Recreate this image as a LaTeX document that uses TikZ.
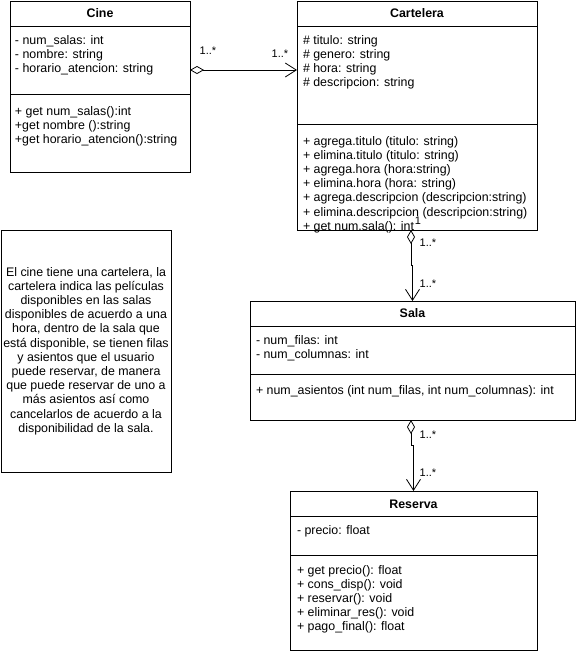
\documentclass[tikz,border=0pt]{standalone}
\usepackage{fontspec}
\setmainfont{Liberation Sans}
\usetikzlibrary{arrows.meta}
\usetikzlibrary{positioning}

\begin{document}
\begin{tikzpicture}[x=1pt,y=1pt,
  every node/.style={font=\fontsize{12.4}{14.2}\selectfont,inner sep=0pt,outer sep=0pt},
  classbox/.style={draw,line width=0.8pt,rectangle},
  header/.style={font=\fontsize{12.4}{14.2}\selectfont\bfseries},
  members/.style={anchor=base west,align=left},
  mult/.style={font=\fontsize{11}{13}\selectfont},
  aggr/.style={line width=0.8pt,{Diamond[open,length=14pt,width=8pt]}-{Straight Barb[length=11pt,width=14pt]}}]
\useasboundingbox (0,0) rectangle (578,-654);

% classes
\node[classbox,minimum width=180pt,minimum height=171pt](cine) at (100,-86.5) {};
\node[classbox,minimum width=240pt,minimum height=229pt](cartelera) at (417,-115.5) {};
\node[classbox,minimum width=325pt,minimum height=119pt](sala) at (412.5,-360.5) {};
\node[classbox,minimum width=247pt,minimum height=159pt](reserva) at (413.5,-570.5) {};
\node[classbox,minimum width=170pt,minimum height=242pt](nota) at (86,-351) {};

\draw[line width=0.8pt] (cine.west |- 0,-26) -- (cine.east |- 0,-26);
\draw[line width=0.8pt] (cine.west |- 0,-94) -- (cine.east |- 0,-94);
\draw[line width=0.8pt] (cartelera.west |- 0,-26) -- (cartelera.east |- 0,-26);
\draw[line width=0.8pt] (cartelera.west |- 0,-124) -- (cartelera.east |- 0,-124);
\draw[line width=0.8pt] (sala.west |- 0,-326) -- (sala.east |- 0,-326);
\draw[line width=0.8pt] (sala.west |- 0,-374) -- (sala.east |- 0,-374);
\draw[line width=0.8pt] (reserva.west |- 0,-516) -- (reserva.east |- 0,-516);
\draw[line width=0.8pt] (reserva.west |- 0,-555) -- (reserva.east |- 0,-555);

\node[header](cinetitle) at (100,-13) {Cine};
\node[header](carteleratitle) at (417,-13) {Cartelera};
\node[header](salatitle) at (412.5,-313) {Sala};
\node[header](reservatitle) at (413.5,-504) {Reserva};

% members: anchor is the baseline of the last line
\node[members](cineattr) at (15,-72.4) {- num\_salas: int\\- nombre: string\\- horario\_atencion: string};
\node[members](cineops) at (15,-143.4) {+ get num\_salas():int\\+get nombre ():string\\+get horario\_atencion():string};
\node[members](carteleraattr) at (303,-86.6) {\# titulo: string\\\# genero: string\\\# hora: string\\\# descripcion: string};
\node[members](carteleraops) at (303,-230.2) {+ agrega.titulo (titulo: string)\\+ elimina.titulo (titulo: string)\\+ agrega.hora (hora:string)\\+ elimina.hora (hora: string)\\+ agrega.descripcion (descripcion:string)\\+ elimina.descripcion (descripcion:string)\\+ get num.sala(): int};
\node[members](salaattr) at (256,-358.2) {- num\_filas: int\\- num\_columnas: int};
\node[members](salaops) at (256,-394) {+ num\_asientos (int num\_filas, int num\_columnas): int};
\node[members](reservaattr) at (297,-534) {- precio: float};
\node[members](reservaops) at (297,-630.8) {+ get precio(): float\\+ cons\_disp(): void\\+ reservar(): void\\+ eliminar\_res(): void\\+ pago\_final(): float};

\node[align=center](notatext) at (86,-351) {El cine tiene una cartelera, la\\cartelera indica las películas\\disponibles en las salas\\disponibles de acuerdo a una\\hora, dentro de la sala que\\está disponible, se tienen filas\\y asientos que el usuario\\puede reservar, de manera\\que puede reservar de uno a\\más asientos así como\\cancelarlos de acuerdo a la\\disponibilidad de la sala.};

% relations
\draw[aggr] (cine.east |- 0,-70) -- (cartelera.west |- 0,-70);
\draw[aggr] ([xshift=-6pt]cartelera.south) -- ++(0,-35) -| (sala.north);
\draw[aggr] ([xshift=-1.5pt]sala.south) -- ++(0,-25) -| (reserva.north);

\node[mult](m1) at (208,-51) {1..*};
\node[mult](m2) at (280,-54) {1..*};
\node[mult](m3) at (418,-221) {1};
\node[mult](m4) at (428,-243) {1..*};
\node[mult](m5) at (428,-284) {1..*};
\node[mult](m6) at (428,-435) {1..*};
\node[mult](m7) at (428,-473) {1..*};
\end{tikzpicture}
\end{document}
